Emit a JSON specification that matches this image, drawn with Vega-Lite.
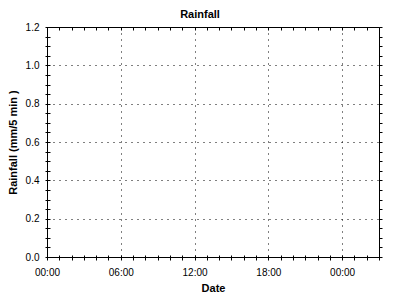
{
  "$schema": "https://vega.github.io/schema/vega-lite/v6.json",
  "width": 332,
  "height": 230,
  "autosize": {"type": "none"},
  "padding": {"left": 47, "top": 27, "right": 21, "bottom": 43},
  "background": "white",
  "title": {
    "text": "Rainfall",
    "font": "Liberation Sans",
    "fontSize": 11,
    "fontWeight": "bold",
    "color": "black",
    "anchor": "middle",
    "baseline": "alphabetic",
    "offset": 9,
    "dx": -13,
    "dy": 16
  },
  "data": {
    "values": [
      {"Date": "2020-01-01T00:00:00Z", "Rainfall": null},
      {"Date": "2020-01-01T06:00:00Z", "Rainfall": null},
      {"Date": "2020-01-01T12:00:00Z", "Rainfall": null},
      {"Date": "2020-01-01T18:00:00Z", "Rainfall": null},
      {"Date": "2020-01-02T00:00:00Z", "Rainfall": null}
    ]
  },
  "config": {
    "view": {"stroke": "black", "strokeWidth": 1},
    "axis": {
      "domain": false,
      "labelFont": "Liberation Sans",
      "labelFontSize": 10,
      "labelColor": "black",
      "titleFont": "Liberation Sans",
      "titleFontSize": 11,
      "titleFontWeight": "bold",
      "titleColor": "black",
      "tickColor": "black",
      "gridColor": "black",
      "gridDash": [1, 5],
      "gridWidth": 1
    }
  },
  "layer": [
    {
      "mark": {"type": "line", "color": "#0000ff"},
      "encoding": {
        "x": {
          "field": "Date",
          "type": "temporal",
          "scale": {"type": "utc", "domain": [1577836800000, 1577934000000], "nice": false},
          "axis": {
            "orient": "bottom",
            "title": "Date",
            "values": [1577836800000, 1577840400000, 1577844000000, 1577847600000, 1577851200000, 1577854800000, 1577858400000, 1577862000000, 1577865600000, 1577869200000, 1577872800000, 1577876400000, 1577880000000, 1577883600000, 1577887200000, 1577890800000, 1577894400000, 1577898000000, 1577901600000, 1577905200000, 1577908800000, 1577912400000, 1577916000000, 1577919600000, 1577923200000, 1577926800000, 1577930400000, 1577934000000],
            "labelExpr": "utchours(datum.value) % 6 == 0 ? utcFormat(datum.value, '%H:%M') : ''",
            "labelFlush": false,
            "labelOverlap": false,
            "offset": -2,
            "tickSize": 5,
            "labelPadding": 7,
            "titlePadding": 5,
            "grid": true,
            "gridOpacity": {"condition": {"test": "utchours(datum.value) % 6 == 0", "value": 1}, "value": 0}
          }
        },
        "y": {
          "field": "Rainfall",
          "type": "quantitative",
          "scale": {"domain": [0, 1.2], "nice": false, "zero": true},
          "axis": {
            "orient": "left",
            "title": "Rainfall (mm/5 min )",
            "values": [0, 0.05, 0.1, 0.15, 0.2, 0.25, 0.3, 0.35, 0.4, 0.45, 0.5, 0.55, 0.6, 0.65, 0.7, 0.75, 0.8, 0.85, 0.9, 0.95, 1.0, 1.05, 1.1, 1.15, 1.2],
            "labelExpr": "abs(datum.value * 5 - round(datum.value * 5)) < 0.001 ? format(datum.value, '.1f') : ''",
            "labelOverlap": false,
            "labelFlush": false,
            "offset": -3,
            "tickSize": 5,
            "labelPadding": 6,
            "titlePadding": 7,
            "grid": true,
            "gridOpacity": {"condition": {"test": "abs(datum.value * 5 - round(datum.value * 5)) < 0.001", "value": 1}, "value": 0}
          }
        }
      }
    },
    {
      "mark": {"type": "line", "color": "#0000ff"},
      "encoding": {
        "x": {
          "field": "Date",
          "type": "temporal",
          "axis": {
            "orient": "top",
            "title": null,
            "labels": false,
            "grid": false,
            "values": [1577836800000, 1577840400000, 1577844000000, 1577847600000, 1577851200000, 1577854800000, 1577858400000, 1577862000000, 1577865600000, 1577869200000, 1577872800000, 1577876400000, 1577880000000, 1577883600000, 1577887200000, 1577890800000, 1577894400000, 1577898000000, 1577901600000, 1577905200000, 1577908800000, 1577912400000, 1577916000000, 1577919600000, 1577923200000, 1577926800000, 1577930400000, 1577934000000],
            "offset": -3,
            "tickSize": 3
          }
        },
        "y": {
          "field": "Rainfall",
          "type": "quantitative",
          "axis": {
            "orient": "right",
            "title": null,
            "labels": false,
            "grid": false,
            "values": [0, 0.05, 0.1, 0.15, 0.2, 0.25, 0.3, 0.35, 0.4, 0.45, 0.5, 0.55, 0.6, 0.65, 0.7, 0.75, 0.8, 0.85, 0.9, 0.95, 1.0, 1.05, 1.1, 1.15, 1.2],
            "tickSize": 3
          }
        }
      }
    }
  ],
  "resolve": {"axis": {"x": "independent", "y": "independent"}}
}
